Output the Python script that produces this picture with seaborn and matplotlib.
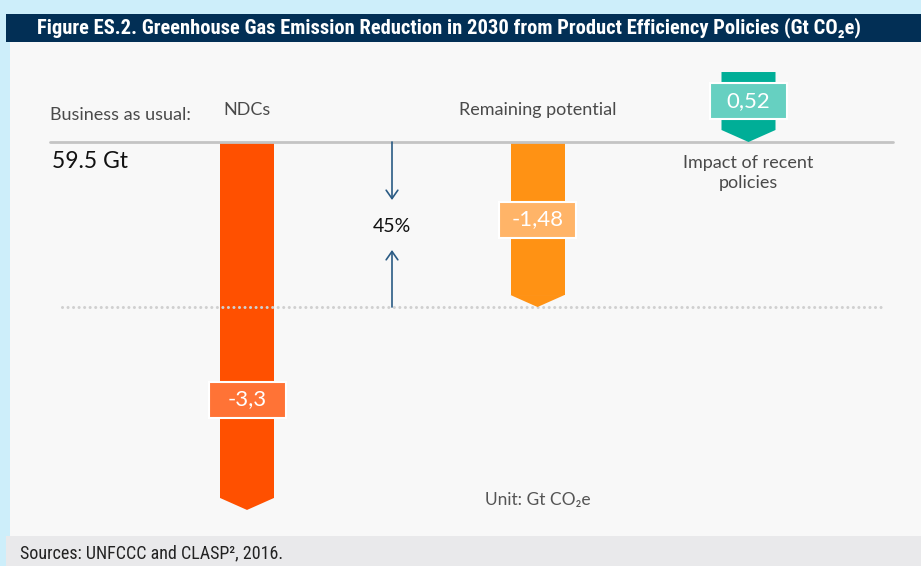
import matplotlib
matplotlib.use("Agg")
import matplotlib.pyplot as plt
import seaborn as sns
import pandas as pd
from matplotlib.patches import Rectangle, Polygon

# ---------------- data ----------------
categories = ["NDCs", "Remaining potential", "Impact of recent\npolicies"]
values = [-3.3, -1.48, 0.52]
bau_label = "Business as usual:"
bau_value = "59.5 Gt"
unit_label = "Unit: Gt CO₂e"
title = "Figure ES.2. Greenhouse Gas Emission Reduction in 2030 from Product Efficiency Policies (Gt CO₂e)"
source = "Sources: UNFCCC and CLASP², 2016."

bar_colors = ["#ff5000", "#ff9214", "#00ae97"]
box_colors = ["#ff7336", "#ffb468", "#66d0c1"]

# ---------------- layout ----------------
W, H = 921, 566
PX = 111.5          # pixels per Gt
BASE = 142          # pixel row of the baseline
xpos = [247, 537.5, 748.5]
bar_w = 54
head = 12 / PX
box_w, box_h = 77, 36 / PX

sns.set_theme(style="white")
plt.rcParams['font.family'] = ['Lato', 'DejaVu Sans']
NARROW = ["Roboto Condensed", "Liberation Sans Narrow", "Roboto", "DejaVu Sans"]

fig = plt.figure(figsize=(W / 100, H / 100), dpi=100, facecolor="#cdeefa")


def fx(px):
    return px / W


def fy(py):
    return 1 - py / H


def dy(py):
    return (BASE - py) / PX


# background panels
fig.add_artist(Rectangle((fx(6), fy(42)), 1 - fx(6), 28 / H, transform=fig.transFigure,
                         facecolor="#022f55", edgecolor="none", zorder=0))
fig.add_artist(Rectangle((fx(10), fy(536)), 1 - fx(10), (536 - 42) / H, transform=fig.transFigure,
                         facecolor="#f8f8f8", edgecolor="none", zorder=0))
fig.add_artist(Rectangle((fx(6), 0), 1 - fx(6), 30 / H, transform=fig.transFigure,
                         facecolor="#e9e9eb", edgecolor="none", zorder=0))

ax = fig.add_axes([fx(10), fy(536), 1 - fx(10), (536 - 42) / H])
ax.set_zorder(1)

# downward bars (bodies) via seaborn
neg = [(c, v, x, col) for c, v, x, col in zip(categories, values, xpos, bar_colors) if v < 0]
df = pd.DataFrame({"pos": [n[2] for n in neg],
                   "body": [n[1] + head for n in neg],
                   "cat": [n[0] for n in neg]})
sns.barplot(data=df, x="pos", y="body", hue="cat", palette=[n[3] for n in neg],
            native_scale=True, width=bar_w / (neg[1][2] - neg[0][2]), saturation=1,
            legend=False, errorbar=None, linewidth=0, ax=ax)

# arrow heads for downward bars
for c, v, x, col in neg:
    ax.add_patch(Polygon([(x - bar_w / 2, v + head), (x + bar_w / 2, v + head), (x, v)],
                         closed=True, facecolor=col, edgecolor="none", zorder=2))

# impact arrow (pointing down to the baseline)
xi, vi = xpos[2], values[2]
ax.add_patch(Polygon([(xi - bar_w / 2, head + vi), (xi + bar_w / 2, head + vi),
                      (xi + bar_w / 2, head), (xi, 0), (xi - bar_w / 2, head)],
                     closed=True, facecolor=bar_colors[2], edgecolor="none", zorder=2))

# value boxes
box_centers = [0.70 * values[0], 0.47 * values[1], head + 0.50 * values[2]]
for x, yc, v, bc in zip(xpos, box_centers, values, box_colors):
    ax.add_patch(Rectangle((x - box_w / 2, yc - box_h / 2), box_w, box_h,
                           facecolor=bc, edgecolor="white", linewidth=1.5, zorder=3))
    ax.text(x, yc, f"{v:g}".replace(".", ","), ha="center", va="center",
            color="white", fontsize=16, zorder=4)

# baseline and dotted reference line
ax.plot([50, 893], [0, 0], color="#c4c4c4", lw=2, zorder=1.5)
ax.plot([62, 881], [values[1], values[1]], color="#d0d0d0", lw=2.2,
        linestyle=(0, (0.01, 1.8)), dash_capstyle="round", zorder=1)

# 45% arrows
ax.annotate("", xy=(392, dy(200)), xytext=(392, 0),
            arrowprops=dict(arrowstyle="->,head_length=0.5,head_width=0.35",
                            color="#2a5b84", lw=1.2, shrinkA=0, shrinkB=0))
ax.annotate("", xy=(392, dy(250)), xytext=(392, values[1]),
            arrowprops=dict(arrowstyle="->,head_length=0.5,head_width=0.35",
                            color="#2a5b84", lw=1.2, shrinkA=0, shrinkB=0))
pct = round(values[1] / values[0] * 100)
ax.text(392, dy(226), f"{pct}%", ha="center", va="center", fontsize=14, color="#111111")

# labels
lab = dict(fontsize=13, color="#4a4a4a")
ax.text(50, dy(115), bau_label, ha="left", va="center", **lab)
ax.text(52, dy(162), bau_value, ha="left", va="center", fontsize=16.5, color="#111111")
ax.text(xpos[0], dy(110), categories[0], ha="center", va="center", **lab)
ax.text(xpos[1], dy(110), categories[1], ha="center", va="center", **lab)
ax.text(xpos[2], dy(173), categories[2], ha="center", va="center", linespacing=1.35, **lab)
ax.text(485, dy(500), unit_label, ha="left", va="center", fontsize=12.5, color="#555555")

ax.set_xlim(10, 921)
ax.set_ylim(dy(536), dy(42))
ax.set_axis_off()

# title and source
fig.text(fx(37), fy(28), title, ha="left", va="center", color="white", fontsize=14.8,
         fontweight="bold", family=NARROW)
fig.text(fx(20), fy(553), source, ha="left", va="center", color="#222222", fontsize=13,
         family=NARROW)

fig.savefig("out.png", dpi=100, facecolor=fig.get_facecolor())
